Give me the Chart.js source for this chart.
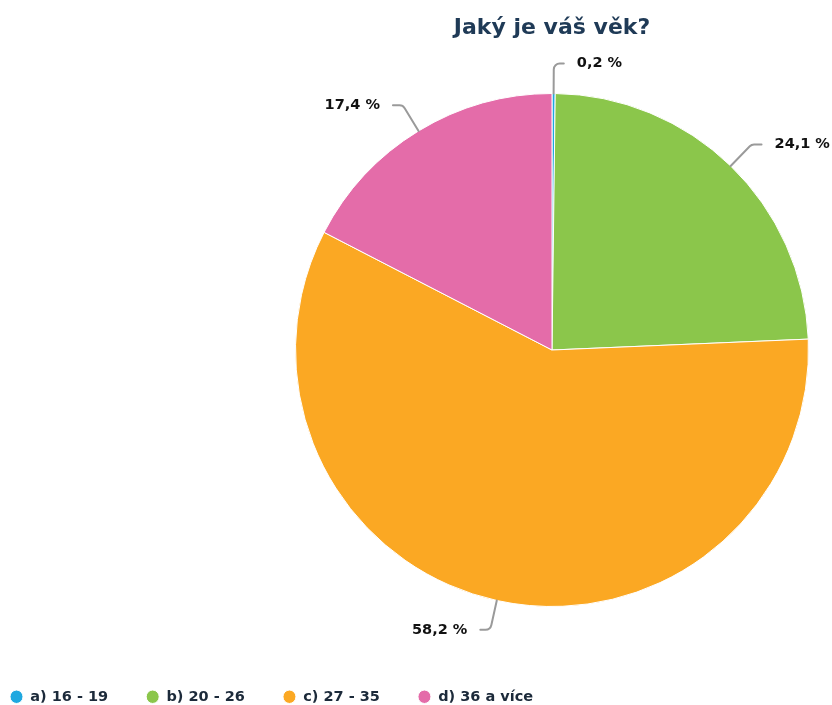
<!DOCTYPE html>
<html>
<head>
<meta charset="utf-8">
<script src="https://cdn.jsdelivr.net/npm/chart.js@4/dist/chart.umd.min.js"></script>
<style>
  html, body { margin: 0; padding: 0; background: #ffffff; }
  #wrap { width: 832px; height: 705px; position: relative; }
</style>
</head>
<body>
<div id="wrap"><canvas id="c"></canvas></div>
<script>
const titleText = 'Jaký je váš věk?';
const categories = ['a) 16 - 19', 'b) 20 - 26', 'c) 27 - 35', 'd) 36 a více'];
const values = [0.2, 24.1, 58.2, 17.4];
const colors = ['#1fa8e0', '#8bc64b', '#fba823', '#e46ca9'];

// pie placement (centre 552,350, radius ~256)
const PIE = { left: 295, right: 809, top: 93, bottom: 607 };

const placePlugin = {
  id: 'place',
  afterLayout(chart) {
    const ca = chart.chartArea;
    ca.left = PIE.left; ca.right = PIE.right; ca.top = PIE.top; ca.bottom = PIE.bottom;
    ca.width = PIE.right - PIE.left; ca.height = PIE.bottom - PIE.top;
    const t = chart.titleBlock;
    if (t) { t.left = 292; t.right = 812; t.width = 520; }
  }
};

const labelPlugin = {
  id: 'outLabels',
  afterDatasetsDraw(chart) {
    const ctx = chart.ctx;
    const meta = chart.getDatasetMeta(0);
    ctx.save();
    meta.data.forEach((arc, i) => {
      const p = arc.getProps(['x', 'y', 'startAngle', 'endAngle', 'outerRadius'], true);
      const mid = (p.startAngle + p.endAngle) / 2;
      const cx = Math.cos(mid), sy = Math.sin(mid);
      const r = p.outerRadius;
      const ex = p.x + cx * r, ey = p.y + sy * r;
      const kx = p.x + cx * (r + 30), ky = p.y + sy * (r + 30);
      const dir = cx >= 0 ? 1 : -1;
      const hx = kx + dir * 10;
      ctx.beginPath();
      ctx.strokeStyle = '#9a9a9a';
      ctx.lineWidth = 2;
      ctx.lineCap = 'round';
      ctx.moveTo(ex, ey);
      ctx.arcTo(kx, ky, hx, ky, 6);
      ctx.lineTo(hx, ky);
      ctx.stroke();
      ctx.fillStyle = '#111111';
      ctx.font = 'bold 14.5px "DejaVu Sans"';
      ctx.textBaseline = 'middle';
      ctx.textAlign = dir > 0 ? 'left' : 'right';
      const txt = values[i].toFixed(1).replace('.', ',') + ' %';
      ctx.fillText(txt, hx + dir * 13, ky);
    });
    ctx.restore();
  }
};

new Chart(document.getElementById('c'), {
  type: 'pie',
  data: {
    labels: categories,
    datasets: [{
      data: values,
      backgroundColor: colors,
      borderColor: '#ffffff',
      borderWidth: 1,
      hoverOffset: 0
    }]
  },
  options: {
    responsive: true,
    maintainAspectRatio: false,
    animation: false,
    devicePixelRatio: 1,
    layout: { padding: { left: -28, right: 0, top: 0, bottom: -9 } },
    plugins: {
      title: {
        display: true,
        text: titleText,
        color: '#1f3a56',
        font: { family: '"DejaVu Sans"', size: 22, weight: 'bold' },
        padding: { top: 15, bottom: 10 }
      },
      legend: {
        position: 'bottom',
        align: 'start',
        labels: {
          usePointStyle: true,
          pointStyle: 'circle',
          pointStyleWidth: 13,
          boxHeight: 9.5,
          padding: 38,
          color: '#1c2a3a',
          font: { family: '"DejaVu Sans"', size: 14.5, weight: 'bold' }
        }
      },
      tooltip: { enabled: false }
    }
  },
  plugins: [placePlugin, labelPlugin]
});
</script>
</body>
</html>
